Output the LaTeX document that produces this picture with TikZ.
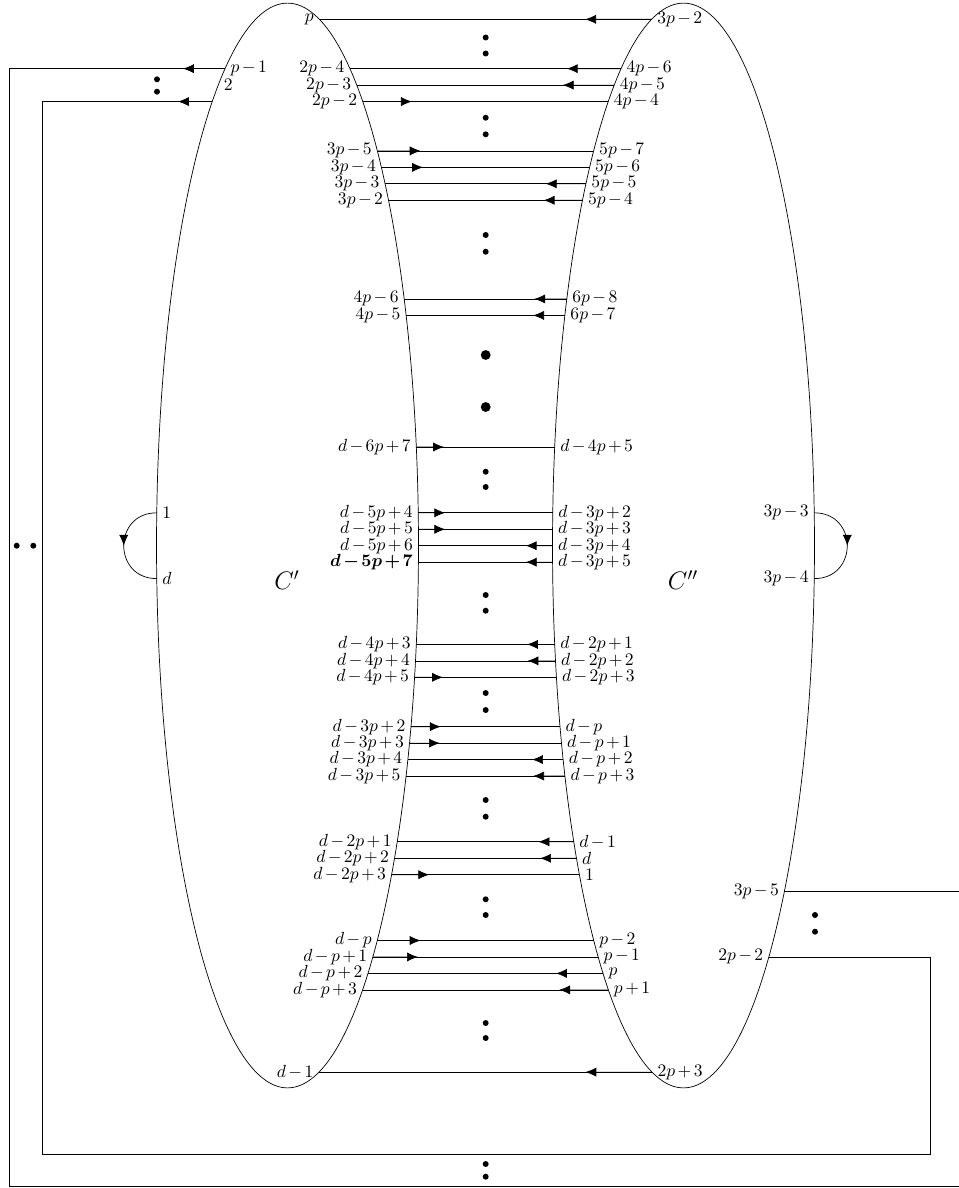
\documentclass[tikz,border=0pt]{standalone}
\usepackage{bm}
\usetikzlibrary{arrows.meta,calc,decorations.markings}
% half width of the two ovals at height #1
\pgfmathdeclarefunction{hw}{1}{\pgfmathparse{131*sqrt(1-((#1-545.5)/542.5)^2)}}

\begin{document}
\begin{tikzpicture}[x=0.02cm,y=-0.02cm,>={Latex[length=6.2pt,width=5.2pt]}]
\tikzstyle{mid}=[postaction={decorate},decoration={markings,mark=at position 0.5 with {\arrow{>}}}]
\tikzstyle{lab}=[inner xsep=3pt,inner ysep=0pt,execute at begin node={\medmuskip=2.5mu}]
\useasboundingbox (0,0) rectangle (958,1188);
\coordinate (cl) at (287.5,545.5); \coordinate (cr) at (683.5,545.5);
\draw (cl) ellipse [x radius=2.62cm,y radius=10.85cm];
\draw (cr) ellipse [x radius=2.62cm,y radius=10.85cm];
\node[font=\Large] (c1) at (287,580) {$C'$};
\node[font=\Large] (c2) at (683,580) {$C''$};
% rungs between the ovals: row / left label / right label / arrow start / arrow end
\foreach \k/\a/\b/\f/\t in {0/p/3p-2/r/.8, 3/2p-4/4p-6/r/.8, 4/2p-3/4p-5/r/.8, 5/2p-2/4p-4/l/.2,
  8/3p-5/5p-7/l/.2, 9/3p-4/5p-6/l/.2, 10/3p-3/5p-5/r/.8, 11/3p-2/5p-4/r/.8,
  17/4p-6/6p-8/r/.8, 18/4p-5/6p-7/r/.8, 26/d-6p+7/d-4p+5/l/.2,
  30/d-5p+4/d-3p+2/l/.2, 31/d-5p+5/d-3p+3/l/.2, 32/d-5p+6/d-3p+4/r/.8, 33/\bm{d-5p+7}/d-3p+5/r/.8,
  38/d-4p+3/d-2p+1/r/.8, 39/d-4p+4/d-2p+2/r/.8, 40/d-4p+5/d-2p+3/l/.2,
  43/d-3p+2/d-p/l/.2, 44/d-3p+3/d-p+1/l/.2, 45/d-3p+4/d-p+2/r/.8, 46/d-3p+5/d-p+3/r/.8,
  50/d-2p+1/d-1/r/.8, 51/d-2p+2/d/r/.8, 52/d-2p+3/1/l/.2,
  56/d-p/p-2/l/.2, 57/d-p+1/p-1/l/.2, 58/d-p+2/p/r/.8, 59/d-p+3/p+1/r/.8,
  64/d-1/2p+3/r/.8}{
  \pgfmathsetmacro\yy{19.3+16.45*\k}
  \coordinate (l\k) at ({287.5+hw(\yy)},\yy);
  \coordinate (r\k) at ({683.5-hw(\yy)},\yy);
  \node[lab,anchor=east] (nl\k) at (l\k) {$\a$};
  \node[lab,anchor=west] (nr\k) at (r\k) {$\b$};
  \draw (l\k) -- (r\k);
  \draw[->] (\f\k) -- ($(l\k)!\t!(r\k)$);
}
% points on the outer sides of the ovals
\foreach \n/\k in {a1/3,a2/5,u1/30,u2/34}
  \coordinate (\n) at ({287.5-hw(19.3+16.45*\k)},{19.3+16.45*\k});
\foreach \n/\k in {b1/53,b2/57,v1/30,v2/34}
  \coordinate (\n) at ({683.5+hw(19.3+16.45*\k)},{19.3+16.45*\k});
\coordinate (t2) at ({287.5-hw(85.1)},85.1);
% wrap-around edges
\draw (a1) -- (9,68.65) |- (962,1186) |- (b1);
\draw[->] (a1) -- (183,68.65);
\draw (a2) -- (42,101.55) |- (930,1154) |- (b2);
\draw[->] (a2) -- (178,101.55);
\node[lab,anchor=west] (na1) at (a1) {$p-1$};
\node[lab,anchor=west] (na2) at (t2) {$2$};
\node[lab,anchor=east] (nb1) at (b1) {$3p-5$};
\node[lab,anchor=east] (nb2) at (b2) {$2p-2$};
% loops
\draw[mid] (u1) .. controls +(-44,0) and +(-44,0) .. (u2);
\draw[mid] (v1) .. controls +(44,0) and +(44,0) .. (v2);
\node[lab,anchor=west] (nu1) at (u1) {$1$};
\node[lab,anchor=west] (nu2) at (u2) {$d$};
\node[lab,anchor=east] (nv1) at (v1) {$3p-3$};
\node[lab,anchor=east] (nv2) at (v2) {$3p-4$};
% dots
\foreach \y in {37.5,53.5,117.7,134.3,235,251.7,471.7,487,595,610.7,693,710,800,816.7,899.3,915,1023,1038,1164,1176.7}
  \fill (485.7,\y) circle [radius=1.7pt];
\foreach \y in {355,407} \fill (485.7,\y) circle [radius=2.8pt];
\fill (157,79.3) circle [radius=1.7pt]; \fill (157,91.7) circle [radius=1.7pt];
\fill (815,915) circle [radius=1.7pt]; \fill (815,931.7) circle [radius=1.7pt];
\fill (16.7,545.7) circle [radius=1.7pt]; \fill (33.3,545.7) circle [radius=1.7pt];
\end{tikzpicture}
\end{document}
